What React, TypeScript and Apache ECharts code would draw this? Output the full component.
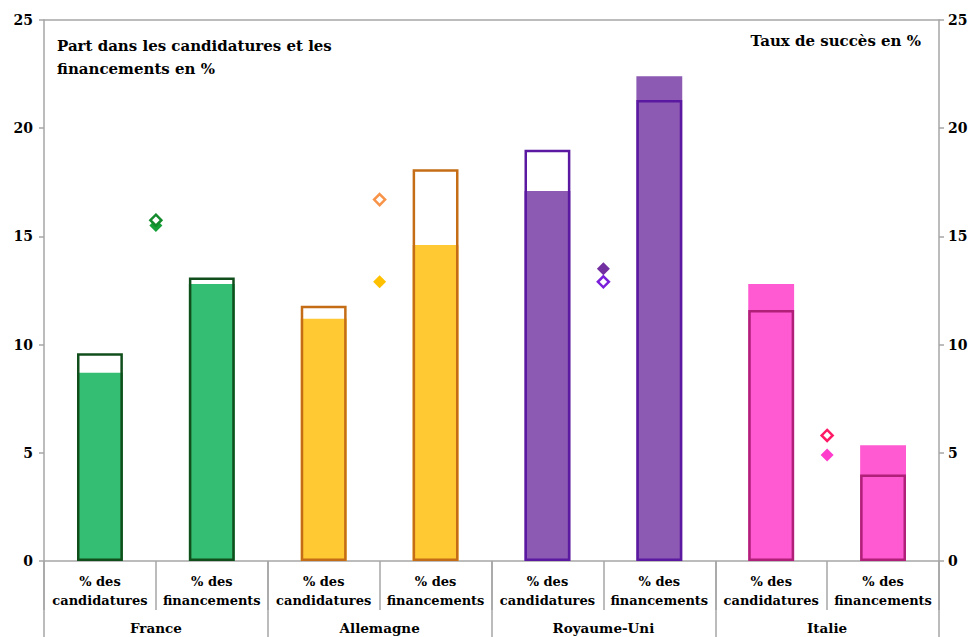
import React, { useEffect, useRef } from "react";
import * as echarts from "echarts";

const subCategories = [
  "% des\ncandidatures", "% des\nfinancements",
  "% des\ncandidatures", "% des\nfinancements",
  "% des\ncandidatures", "% des\nfinancements",
  "% des\ncandidatures", "% des\nfinancements",
];
const countries = ["France", "Allemagne", "Royaume-Uni", "Italie"];
// filled bars
const filledValues = [8.7, 12.8, 11.2, 14.6, 17.1, 22.4, 12.8, 5.35];
// outlined bars
const outlineValues = [9.6, 13.1, 11.8, 18.1, 19.0, 21.3, 11.6, 4.0];
// success rate diamonds (right axis), one per country, placed at group centre
const diamondPositions = [1, 3, 5, 7];
const filledDiamonds = [15.5, 12.9, 13.5, 4.9];
const outlineDiamonds = [15.75, 16.7, 12.9, 5.8];
const yTicks = [0, 25, 5];

const fillColors = ["#34BE73", "#34BE73", "#FFC933", "#FFC933", "#8C59B3", "#8C59B3", "#FF5AD2", "#FF5AD2"];
const edgeColors = ["#104F1C", "#104F1C", "#C46D16", "#C46D16", "#5A19A0", "#5A19A0", "#B01F78", "#B01F78"];
const diamondFill = ["#14A036", "#FFC000", "#7330A0", "#FF3CCB"];
const diamondEdge = ["#138A2B", "#F7944A", "#7A1FDA", "#FF1A66"];

const FONT = "DejaVu Serif";
const AXIS_GREY = "#A6A6A6";

export default function App() {
  const ref = useRef<HTMLDivElement>(null);
  useEffect(() => {
    if (!ref.current) return;
    const chart = echarts.init(ref.current, undefined, { renderer: "svg" });
    const label = { fontFamily: FONT, fontWeight: "bold" as const, color: "#000" };
    chart.setOption({
      animation: false,
      grid: { left: 44, right: 36, top: 20, bottom: 76 },
      xAxis: [
        {
          type: "category",
          data: subCategories,
          position: "bottom",
          axisLine: { show: true, lineStyle: { color: AXIS_GREY, width: 1.5 } },
          axisTick: { show: true, alignWithLabel: false, length: 49, lineStyle: { color: AXIS_GREY, width: 1.5 } },
          axisLabel: { ...label, fontSize: 13, lineHeight: 19, margin: 11, interval: 0 },
        },
        {
          type: "category",
          data: countries,
          position: "bottom",
          axisLine: { show: false },
          axisTick: { show: true, alignWithLabel: false, length: 76, lineStyle: { color: AXIS_GREY, width: 1.5 } },
          axisLabel: { ...label, fontSize: 13.5, margin: 60, interval: 0 },
        },
        {
          type: "value",
          min: 0,
          max: 8,
          position: "top",
          axisLine: { show: true, lineStyle: { color: AXIS_GREY, width: 1.5 } },
          axisTick: { show: false },
          axisLabel: { show: false },
          splitLine: { show: false },
        },
      ],
      yAxis: [
        {
          type: "value",
          min: yTicks[0],
          max: yTicks[1],
          interval: yTicks[2],
          position: "left",
          axisLine: { show: true, lineStyle: { color: AXIS_GREY, width: 1.5 } },
          axisTick: { show: true, length: 5, lineStyle: { color: AXIS_GREY, width: 1.5 } },
          axisLabel: { ...label, fontSize: 14, margin: 11 },
          splitLine: { show: false },
        },
        {
          type: "value",
          min: yTicks[0],
          max: yTicks[1],
          interval: yTicks[2],
          position: "right",
          axisLine: { show: true, lineStyle: { color: AXIS_GREY, width: 1.5 } },
          axisTick: { show: true, length: 5, lineStyle: { color: AXIS_GREY, width: 1.5 } },
          axisLabel: { ...label, fontSize: 14, margin: 9 },
          splitLine: { show: false },
        },
      ],
      graphic: [
        {
          type: "text",
          left: 57,
          top: 34,
          style: {
            text: "Part dans les candidatures et les\nfinancements en %",
            fontFamily: FONT,
            fontWeight: "bold",
            fontSize: 15,
            lineHeight: 23,
            fill: "#000",
          },
        },
        {
          type: "text",
          right: 54,
          top: 29,
          style: {
            text: "Taux de succès en %",
            fontFamily: FONT,
            fontWeight: "bold",
            fontSize: 15,
            lineHeight: 23,
            fill: "#000",
          },
        },
      ],
      series: [
        {
          type: "bar",
          xAxisIndex: 0,
          yAxisIndex: 0,
          barWidth: "41%",
          barGap: "-100%",
          data: filledValues.map((v, i) => ({ value: v, itemStyle: { color: fillColors[i] } })),
        },
        {
          type: "bar",
          xAxisIndex: 0,
          yAxisIndex: 0,
          barWidth: "41%",
          barGap: "-100%",
          data: outlineValues.map((v, i) => ({
            value: v,
            itemStyle: { color: "rgba(0,0,0,0)", borderColor: edgeColors[i], borderWidth: 2.5 },
          })),
        },
        {
          type: "scatter",
          xAxisIndex: 2,
          yAxisIndex: 1,
          symbol: "diamond",
          symbolSize: 13,
          itemStyle: { opacity: 1 },
          data: filledDiamonds.map((v, i) => ({
            value: [diamondPositions[i], v],
            itemStyle: { color: diamondFill[i], opacity: 1 },
          })),
        },
        {
          type: "scatter",
          xAxisIndex: 2,
          yAxisIndex: 1,
          symbol: "diamond",
          symbolSize: 11,
          itemStyle: { opacity: 1 },
          data: outlineDiamonds.map((v, i) => ({
            value: [diamondPositions[i], v],
            itemStyle: { color: "#fff", borderColor: diamondEdge[i], borderWidth: 2.5, opacity: 1 },
          })),
        },
      ],
    });
    return () => chart.dispose();
  }, []);
  return (
    <div
      ref={ref}
      style={{ position: "fixed", left: 0, top: 0, width: 975, height: 637, background: "#fff" }}
    />
  );
}
